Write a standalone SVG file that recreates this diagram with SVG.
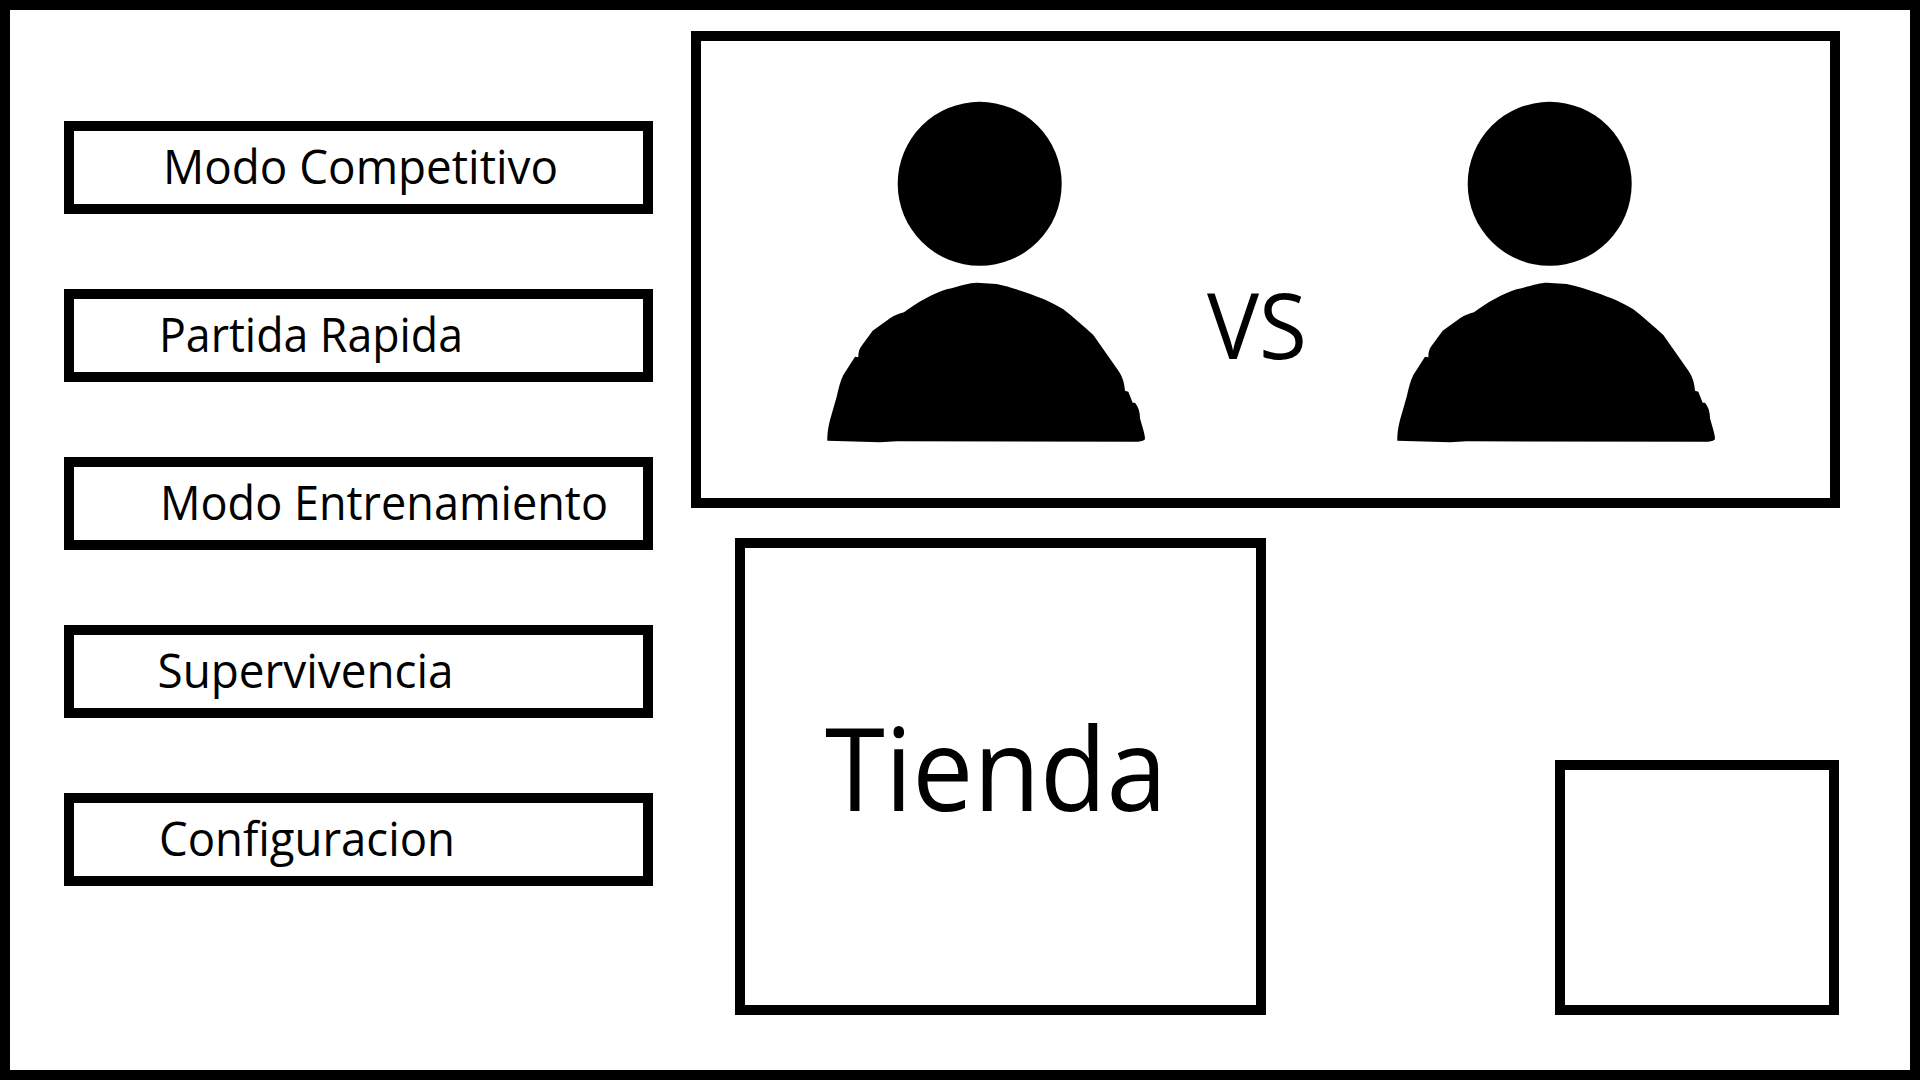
<svg xmlns="http://www.w3.org/2000/svg" xmlns:xlink="http://www.w3.org/1999/xlink" width="1920" height="1080" viewBox="0 0 1920 1080">
<style>
.b{fill:#fff;stroke:#000;stroke-width:10}
.t{font-family:"Open Sans","Noto Sans",sans-serif;fill:#000}
.m{font-size:47px}
</style>
<defs>
<g id="person">
<circle cx="979.7" cy="183.8" r="82"/>
<path transform="translate(800 80) scale(.33333)" d="M82 1082 C82 1060 84 1045 90 1020 L110 950 C116 925 120 905 130 885 L165 830 L175 832 C175 815 178 805 185 797 L218 752 L270 715 C285 705 298 700 312 697 C350 668 400 640 440 628 C480 618 510 608 530 608 L590 612 C620 618 650 628 680 638 C720 652 760 668 790 688 C820 712 850 738 880 765 L950 865 C965 885 973 905 975 932 L985 935 L998 968 L1005 968 C1015 980 1020 995 1020 1015 L1030 1050 C1034 1065 1035 1070 1035 1078 C1030 1083 1025 1084 1015 1085 L290 1084 L240 1087 L82 1082 Z"/>
</g>
</defs>
<rect width="1920" height="1080" fill="#fff"/>
<rect id="frame" class="b" x="5" y="5" width="1910" height="1070"/>
<g id="menu-competitivo"><rect class="b" x="69" y="126" width="579" height="83"/><text class="t m" x="163" y="184" textLength="395" lengthAdjust="spacingAndGlyphs">Modo Competitivo</text></g>
<g id="menu-rapida"><rect class="b" x="69" y="294" width="579" height="83"/><text class="t m" x="159" y="352" textLength="304" lengthAdjust="spacingAndGlyphs">Partida Rapida</text></g>
<g id="menu-entrenamiento"><rect class="b" x="69" y="462" width="579" height="83"/><text class="t m" x="160" y="520" textLength="448" lengthAdjust="spacingAndGlyphs">Modo Entrenamiento</text></g>
<g id="menu-supervivencia"><rect class="b" x="69" y="630" width="579" height="83"/><text class="t m" x="157.500" y="688" textLength="296" lengthAdjust="spacingAndGlyphs">Supervivencia</text></g>
<g id="menu-configuracion"><rect class="b" x="69" y="798" width="579" height="83"/><text class="t m" x="159" y="856" textLength="296" lengthAdjust="spacingAndGlyphs">Configuracion</text></g>
<g id="versus">
<rect class="b" x="696" y="36" width="1139" height="467"/>
<use xlink:href="#person" href="#person"/>
<use xlink:href="#person" href="#person" x="570"/>
<text class="t" x="1207" y="359" font-size="91" textLength="100" lengthAdjust="spacingAndGlyphs">VS</text>
</g>
<g id="tienda"><rect class="b" x="740" y="543" width="521" height="467"/><text class="t" x="825" y="811" font-size="116" textLength="342" lengthAdjust="spacingAndGlyphs">Tienda</text></g>
<g id="empty-box"><rect class="b" x="1560" y="765" width="274" height="245"/></g>
</svg>
